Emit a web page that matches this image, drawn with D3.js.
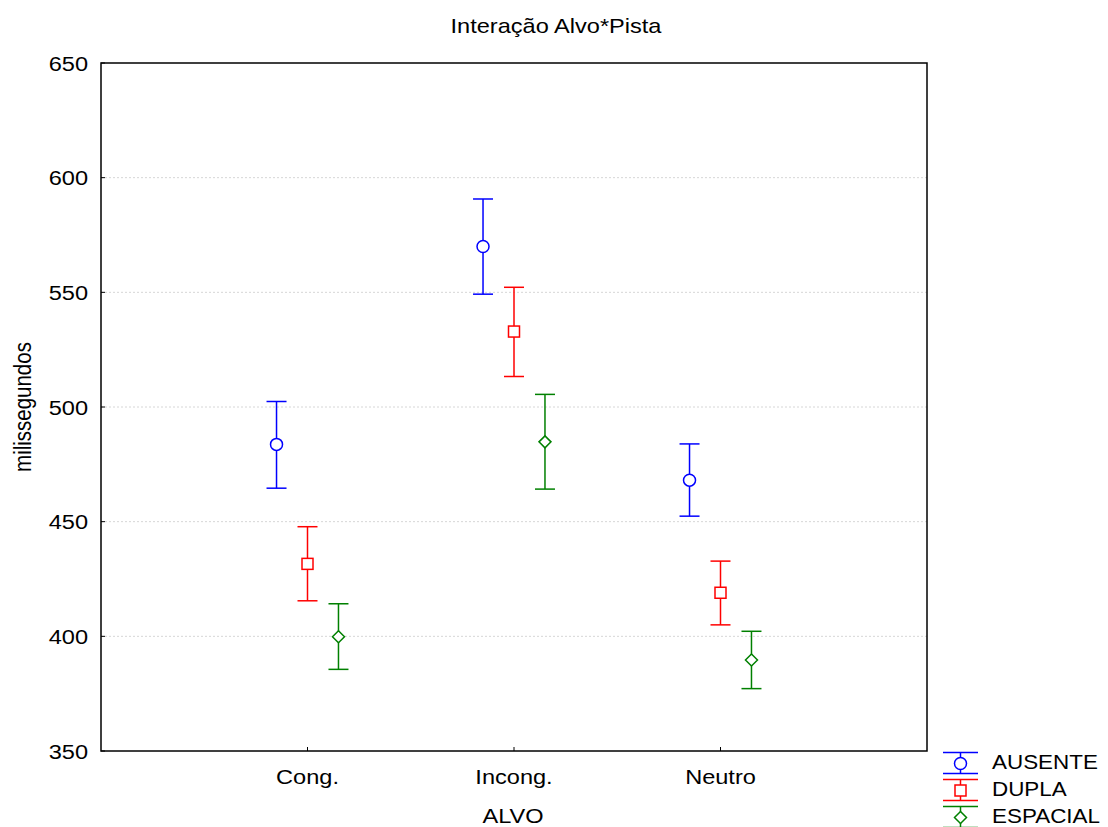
<!DOCTYPE html>
<html>
<head>
<meta charset="utf-8">
<script src="https://d3js.org/d3.v7.min.js"></script>
<style>
  body { margin: 0; background: #fff; }
  svg { display: block; }
  text { font-family: "Liberation Sans", Arial, sans-serif; fill: #000; }
</style>
</head>
<body>
<svg width="1108" height="827"></svg>
<script>
// data
const categories = ["Cong.", "Incong.", "Neutro"];
const seriesNames = ["AUSENTE", "DUPLA", "ESPACIAL"];
const seriesColors = ["#0000ff", "#ff0000", "#008000"];

const ausenteMean = [483.7, 570.0, 468.1];
const ausenteLow  = [464.6, 549.2, 452.4];
const ausenteHigh = [502.4, 590.7, 483.9];

const duplaMean = [431.6, 532.9, 419.0];
const duplaLow  = [415.5, 513.3, 405.0];
const duplaHigh = [447.8, 552.2, 432.8];

const espacialMean = [399.8, 484.8, 389.7];
const espacialLow  = [385.6, 464.2, 377.2];
const espacialHigh = [414.2, 505.5, 402.2];

const yTicks = [350, 400, 450, 500, 550, 600, 650];

const series = [
  {name: seriesNames[0], color: seriesColors[0], shape: "circle",  mean: ausenteMean,  low: ausenteLow,  high: ausenteHigh},
  {name: seriesNames[1], color: seriesColors[1], shape: "square",  mean: duplaMean,    low: duplaLow,    high: duplaHigh},
  {name: seriesNames[2], color: seriesColors[2], shape: "diamond", mean: espacialMean, low: espacialLow, high: espacialHigh}
];

const SX = 1.15; // the original text is a bit wide
const svg = d3.select("svg");
const plotL = 101, plotR = 927, plotT = 63, plotB = 751;

const x = d3.scaleLinear().domain([0, categories.length + 1]).range([plotL, plotR]);
const y = d3.scaleLinear().domain([350, 650]).range([plotB, plotT]);

function label(g, px, py, txt, size, anchor, rot) {
  return g.append("text")
    .attr("transform", `translate(${px},${py}) scale(${SX},1)` + (rot ? ` rotate(${rot})` : ""))
    .attr("text-anchor", anchor)
    .style("font-size", size + "px")
    .text(txt);
}

// grid
svg.append("g").selectAll("line")
  .data(yTicks.slice(1, -1))
  .join("line")
  .attr("x1", plotL).attr("x2", plotR)
  .attr("y1", d => y(d)).attr("y2", d => y(d))
  .attr("stroke", "#d6d6d6").attr("stroke-width", 1)
  .attr("stroke-dasharray", "2,2");

// frame
svg.append("rect")
  .attr("x", plotL).attr("y", plotT)
  .attr("width", plotR - plotL).attr("height", plotB - plotT)
  .attr("fill", "none").attr("stroke", "#000").attr("stroke-width", 1.5);

// ticks (inward)
svg.append("g").selectAll("line")
  .data(yTicks)
  .join("line")
  .attr("x1", plotL).attr("x2", plotL + 4)
  .attr("y1", d => y(d)).attr("y2", d => y(d))
  .attr("stroke", "#000").attr("stroke-width", 1);
svg.append("g").selectAll("line")
  .data(categories)
  .join("line")
  .attr("x1", (d, i) => x(i + 1)).attr("x2", (d, i) => x(i + 1))
  .attr("y1", plotB).attr("y2", plotB - 4)
  .attr("stroke", "#000").attr("stroke-width", 1);

// tick labels
const labels = svg.append("g");
yTicks.forEach(t => label(labels, 88, y(t) + 7.5, t, 20.5, "end"));
categories.forEach((c, i) => label(labels, x(i + 1), 784, c, 20.5, "middle"));

label(labels, 556, 33, "Interação Alvo*Pista", 20.5, "middle");
label(labels, 513, 823, "ALVO", 20.5, "middle");
label(labels, 31, 407, "milissegundos", 20.5, "middle", -90);

function marker(g, shape, color, cx, cy) {
  if (shape === "circle") {
    g.append("circle").attr("cx", cx).attr("cy", cy).attr("r", 6)
      .attr("fill", "#fff").attr("stroke", color).attr("stroke-width", 1.5);
  } else if (shape === "square") {
    g.append("rect").attr("x", cx - 5.5).attr("y", cy - 5.5).attr("width", 11).attr("height", 11)
      .attr("fill", "#fff").attr("stroke", color).attr("stroke-width", 1.5);
  } else {
    g.append("path").attr("d", `M${cx},${cy - 6}L${cx + 6},${cy}L${cx},${cy + 6}L${cx - 6},${cy}Z`)
      .attr("fill", "#fff").attr("stroke", color).attr("stroke-width", 1.5);
  }
}

// error bars
const offset = 0.15;
series.forEach((s, si) => {
  const g = svg.append("g");
  categories.forEach((c, i) => {
    const cx = x(i + 1 + (si - 1) * offset);
    g.append("line").attr("x1", cx).attr("x2", cx)
      .attr("y1", y(s.low[i])).attr("y2", y(s.high[i]))
      .attr("stroke", s.color).attr("stroke-width", 1.5);
    [s.low[i], s.high[i]].forEach(v => {
      g.append("line").attr("x1", cx - 10).attr("x2", cx + 10)
        .attr("y1", y(v)).attr("y2", y(v))
        .attr("stroke", s.color).attr("stroke-width", 1.5);
    });
    marker(g, s.shape, s.color, cx, y(s.mean[i]));
  });
});

// legend
const lg = svg.append("g");
series.forEach((s, si) => {
  const my = 763.5 + si * 27;
  const lx = 960.5;
  lg.append("line").attr("x1", lx).attr("x2", lx).attr("y1", my - 11).attr("y2", my + 10)
    .attr("stroke", s.color).attr("stroke-width", 1.5);
  [my - 11, my + 10].forEach(v => {
    lg.append("line").attr("x1", lx - 17.5).attr("x2", lx + 17.5).attr("y1", v).attr("y2", v)
      .attr("stroke", s.color).attr("stroke-width", 1.5);
  });
  marker(lg, s.shape, s.color, lx, my);
  label(lg, 992, my + 5, s.name, 19.5, "start");
});
</script>
</body>
</html>
